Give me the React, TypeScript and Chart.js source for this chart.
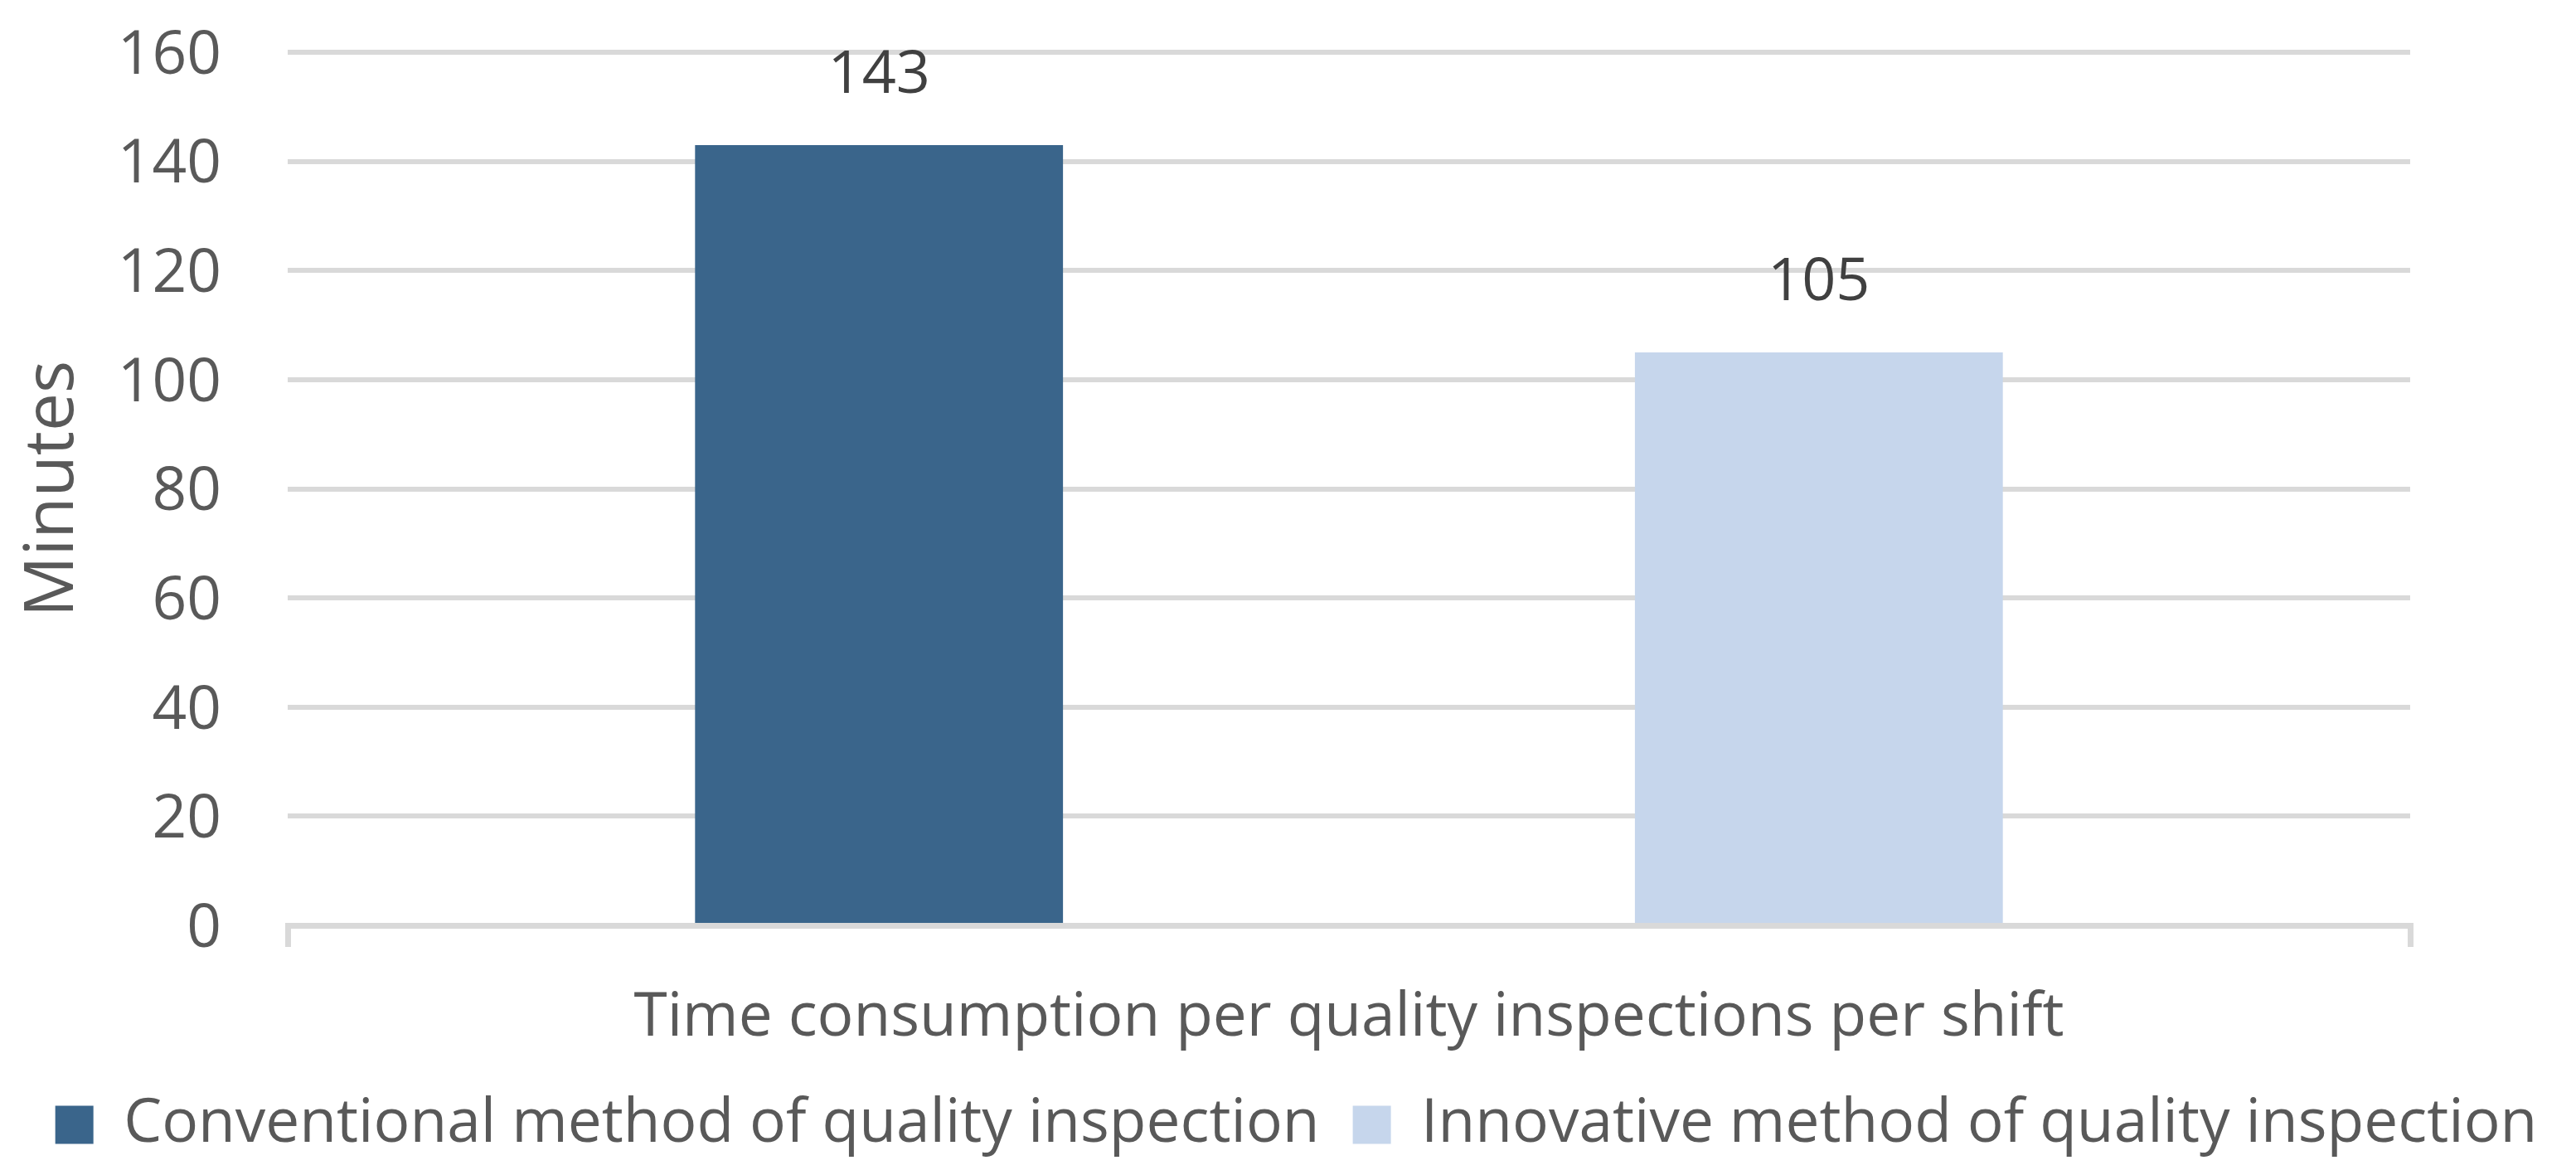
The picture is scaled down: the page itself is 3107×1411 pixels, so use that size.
import React, { useEffect, useRef } from "react";
import { Chart, registerables } from "chart.js";

Chart.register(...registerables);

const categories = ["Time consumption per quality inspections per shift"];
const seriesNames = [
  "Conventional method of quality inspection",
  "Innovative method of quality inspection",
];
const conventionalValues = [143];
const innovativeValues = [105];
const seriesColors = ["#3A658B", "#C6D6EC"];
const yTitle = "Minutes";
const yMin = 0;
const yMax = 160;
const yStep = 20;

const FONT = '"Open Sans", "Noto Sans", sans-serif';

const valueLabels = {
  id: "valueLabels",
  afterDatasetsDraw(chart: any) {
    const ctx = chart.ctx;
    ctx.save();
    ctx.font = `72px ${FONT}`;
    ctx.fillStyle = "#404040";
    ctx.textAlign = "center";
    ctx.textBaseline = "alphabetic";
    chart.data.datasets.forEach((ds: any, di: number) => {
      const meta = chart.getDatasetMeta(di);
      meta.data.forEach((el: any, i: number) => {
        ctx.fillText(String(ds.data[i]), el.x, el.y - 63);
      });
    });
    ctx.restore();
  },
};

export default function App() {
  const ref = useRef<HTMLCanvasElement | null>(null);
  useEffect(() => {
    document.body.style.margin = "0";
    if (!ref.current) return;
    const chart = new Chart(ref.current, {
      type: "bar",
      data: {
        labels: categories,
        datasets: [
          {
            label: seriesNames[0],
            data: conventionalValues,
            backgroundColor: seriesColors[0],
            borderWidth: 0,
            categoryPercentage: 0.8856,
            barPercentage: 0.3915,
          },
          {
            label: seriesNames[1],
            data: innovativeValues,
            backgroundColor: seriesColors[1],
            borderWidth: 0,
            categoryPercentage: 0.8856,
            barPercentage: 0.3915,
          },
        ],
      },
      options: {
        responsive: false,
        animation: false,
        devicePixelRatio: 1,
        layout: { padding: { top: 63, left: 20, right: 0, bottom: 8 } },
        plugins: {
          tooltip: { enabled: false },
          legend: {
            position: "bottom",
            labels: {
              boxWidth: 46,
              boxHeight: 46,
              padding: 40,
              color: "#595959",
              font: { family: FONT, size: 73 },
            },
          },
        },
        scales: {
          x: {
            grid: {
              display: true,
              drawOnChartArea: false,
              drawTicks: true,
              tickLength: 26,
              color: "#D9D9D9",
              lineWidth: 7,
            },
            border: { display: true, color: "#D9D9D9", width: 7 },
            ticks: {
              color: "#595959",
              font: { family: FONT, size: 73 },
              padding: 42,
            },
            afterFit(s: any) {
              s.height = 164;
            },
          },
          y: {
            min: yMin,
            max: yMax,
            ticks: {
              stepSize: yStep,
              color: "#595959",
              font: { family: FONT, size: 73 },
              padding: 0,
              labelOffset: 5,
            },
            grid: {
              color: "#D9D9D9",
              lineWidth: 6,
              drawTicks: true,
              tickLength: 80,
              tickColor: "rgba(0,0,0,0)",
            },
            border: { display: false },
            title: {
              display: true,
              text: yTitle,
              color: "#595959",
              font: { family: FONT, size: 82, lineHeight: 1 },
              padding: { top: 4, bottom: 0 },
            },
            afterFit(s: any) {
              s.width = 327;
            },
          },
          yR: {
            type: "linear",
            position: "right",
            display: true,
            grid: { display: false },
            border: { display: false },
            ticks: { display: false },
            afterFit(s: any) {
              s.width = 200;
            },
          },
        },
      },
      plugins: [valueLabels],
    } as any);
    return () => chart.destroy();
  }, []);
  return (
    <div style={{ position: "absolute", left: 0, top: 0, width: 3107, height: 1411 }}>
      <canvas ref={ref} width={3107} height={1411} style={{ display: "block" }} />
    </div>
  );
}
